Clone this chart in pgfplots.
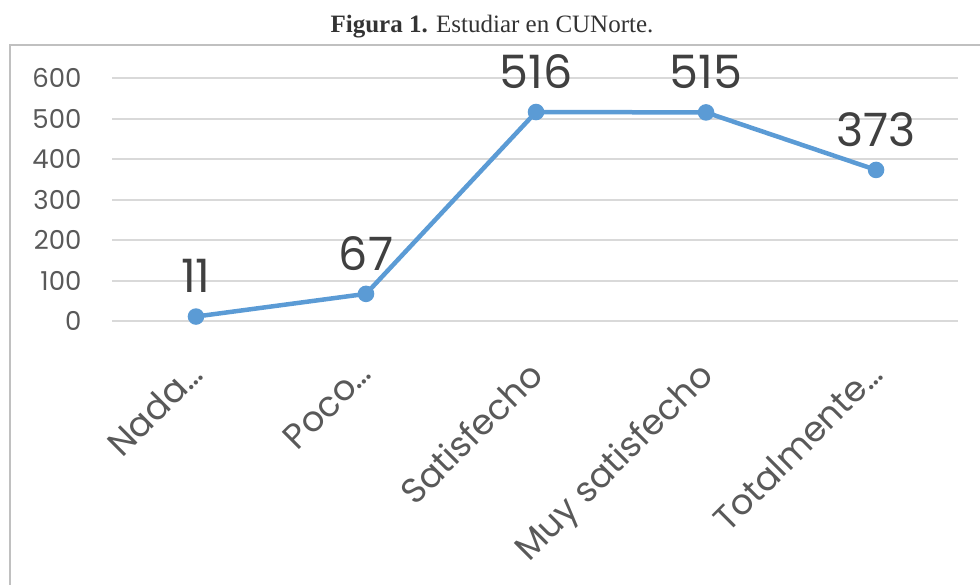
\documentclass[border=0pt]{standalone}
\usepackage{fontspec}
\setmainfont{Poppins}
\newfontfamily\titlefont{Liberation Serif}
\usepackage{pgfplots}
\pgfplotsset{compat=1.18}
\definecolor{lineblue}{HTML}{5B9BD5}
\definecolor{txtgray}{HTML}{595959}
\definecolor{lblgray}{HTML}{404040}
\definecolor{gridgray}{HTML}{D9D9D9}
\definecolor{boxgray}{HTML}{C0C0C0}

\begin{document}
\begin{tikzpicture}
% page frame, 1pt per reference pixel
\path[use as bounding box] (0pt,0pt) rectangle (980pt,-585pt);
\draw[boxgray, line width=2pt] (10pt,-590pt) -- (10pt,-45pt) -- (985pt,-45pt);
\node[font=\titlefont\fontsize{25}{30}\selectfont, text=black!80] at (492pt,-27pt)
  {\textbf{Figura 1.} Estudiar en CUNorte.};
\begin{axis}[
  at={(112pt,-321pt)}, anchor=south west, scale only axis,
  width=846pt, height=243pt,
  xmin=-0.494, xmax=4.482, ymin=0, ymax=600,
  ytick={0,100,...,600}, xtick={0,...,4},
  xticklabels={Nada…, Poco…, Satisfecho, Muy satisfecho, Totalmente…},
  axis line style={draw=none},
  ymajorgrids, grid style={gridgray, line width=2pt},
  major tick length=0pt,
  tick label style={text=txtgray, font=\fontsize{26}{30}\selectfont},
  yticklabel style={xshift=-27pt},
  xticklabel style={rotate=45, anchor=north east, font=\fontsize{35}{40}\selectfont, xshift=-30pt, yshift=-16pt},
  /pgf/number format/assume math mode=true,
  clip=false,
  nodes near coords,
  nodes near coords style={font=\fontsize{46}{50}\selectfont, text=lblgray, anchor=south, yshift=18pt},
]
\addplot[lineblue, line width=4.5pt, mark=*, mark size=6pt, mark options={fill=lineblue}]
  coordinates {(0,11) (1,67) (2,516) (3,515) (4,373)};
\end{axis}
\end{tikzpicture}
\end{document}
